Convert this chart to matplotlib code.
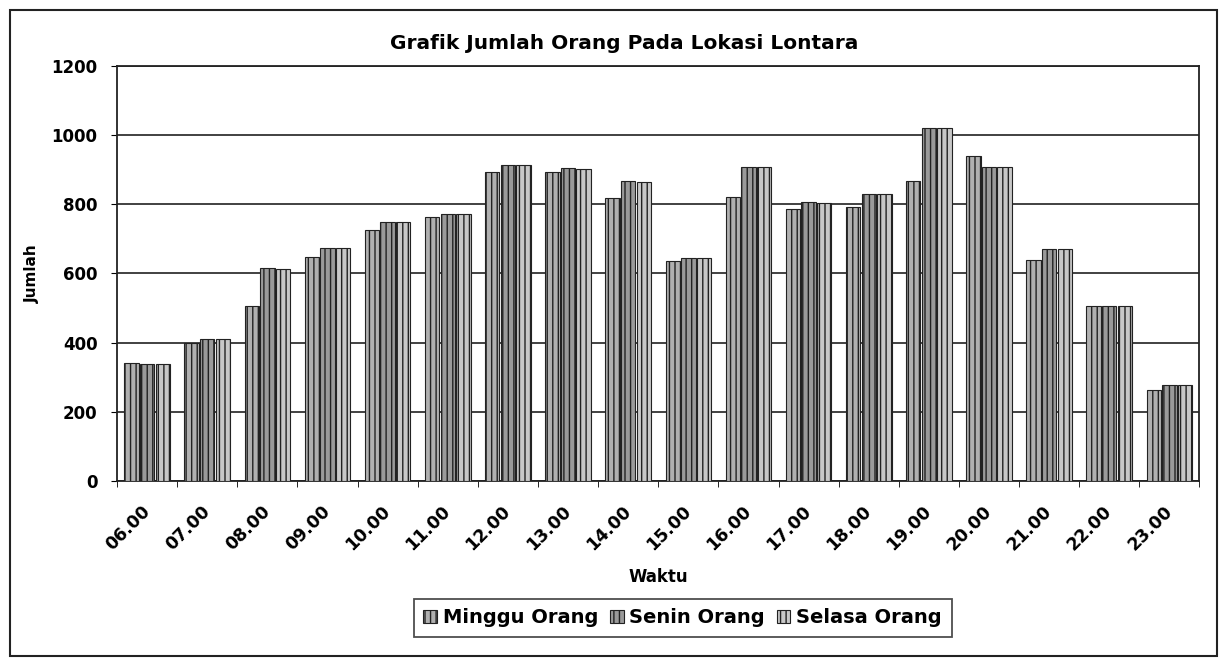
import matplotlib.pyplot as plt
import matplotlib.patches as patches
import numpy as np

plt.rcParams['font.family'] = ['DejaVu Sans']
plt.rcParams['hatch.linewidth'] = 1.0

# data
waktu = ['06.00', '07.00', '08.00', '09.00', '10.00', '11.00', '12.00', '13.00', '14.00',
         '15.00', '16.00', '17.00', '18.00', '19.00', '20.00', '21.00', '22.00', '23.00']
minggu = [340, 400, 505, 648, 726, 764, 894, 893, 820, 637, 822, 788, 792, 868, 940, 638, 507, 262]
senin = [338, 410, 616, 674, 748, 772, 915, 905, 868, 646, 908, 806, 830, 1022, 908, 670, 507, 278]
selasa = [338, 410, 614, 673, 748, 772, 913, 903, 866, 646, 908, 805, 830, 1022, 908, 670, 507, 278]

series = [('Minggu Orang', minggu, '#b0b0b0'),
          ('Senin Orang', senin, '#9a9a9a'),
          ('Selasa Orang', selasa, '#c8c8c8')]

fig = plt.figure(figsize=(12.19, 6.63), dpi=100)
ax = fig.add_axes([0.096, 0.275, 0.888, 0.625])

x = np.arange(len(waktu))
w = 0.26
for i, (name, vals, col) in enumerate(series):
    ax.bar(x + (i - 1) * w, vals, width=w * 0.92, color=col, edgecolor='#222222',
           hatch='|||', linewidth=0.8, label=name, zorder=3)

ax.set_xlim(-0.5, len(waktu) - 0.5)
ax.set_ylim(0, 1200)
ax.set_yticks(range(0, 1201, 200))
ax.yaxis.grid(True, color='#333333', linewidth=1.3, zorder=0)
ax.set_xticks(x)
ax.set_xticklabels(waktu, rotation=45, ha='right', va='center', rotation_mode='anchor',
                   fontsize=12.5, fontweight='bold')
ax.set_xticks(np.arange(-0.5, len(waktu), 1), minor=True)
ax.tick_params(axis='x', which='major', length=0, pad=20)
ax.tick_params(axis='x', which='minor', length=4)
ax.tick_params(axis='y', length=4, pad=10)
for lab in ax.get_yticklabels():
    lab.set_fontweight('bold')
    lab.set_fontsize(12)
for sp in ax.spines.values():
    sp.set_linewidth(1.3)
    sp.set_color('#222222')

ax.set_xlabel('Waktu', fontsize=12, fontweight='bold', labelpad=10)
ax.set_ylabel('Jumlah', fontsize=11, fontweight='bold', labelpad=8)
fig.text(0.512, 0.935, 'Grafik Jumlah Orang Pada Lokasi Lontara', ha='center', va='center',
         fontsize=14.5, fontweight='bold')

leg = fig.legend(loc='center', bbox_to_anchor=(0.56, 0.068), ncol=3, frameon=True,
                 prop={'weight': 'bold', 'size': 14}, handlelength=0.7, handleheight=0.7,
                 handletextpad=0.3, columnspacing=0.6, borderpad=0.5, fancybox=False)
leg.get_frame().set_edgecolor('#222222')
leg.get_frame().set_linewidth(1.3)

fig.patches.append(patches.Rectangle((0.008, 0.01), 0.99, 0.975, transform=fig.transFigure,
                                     fill=False, edgecolor='#222222', linewidth=1.5))

fig.savefig('out.png', dpi=100)
